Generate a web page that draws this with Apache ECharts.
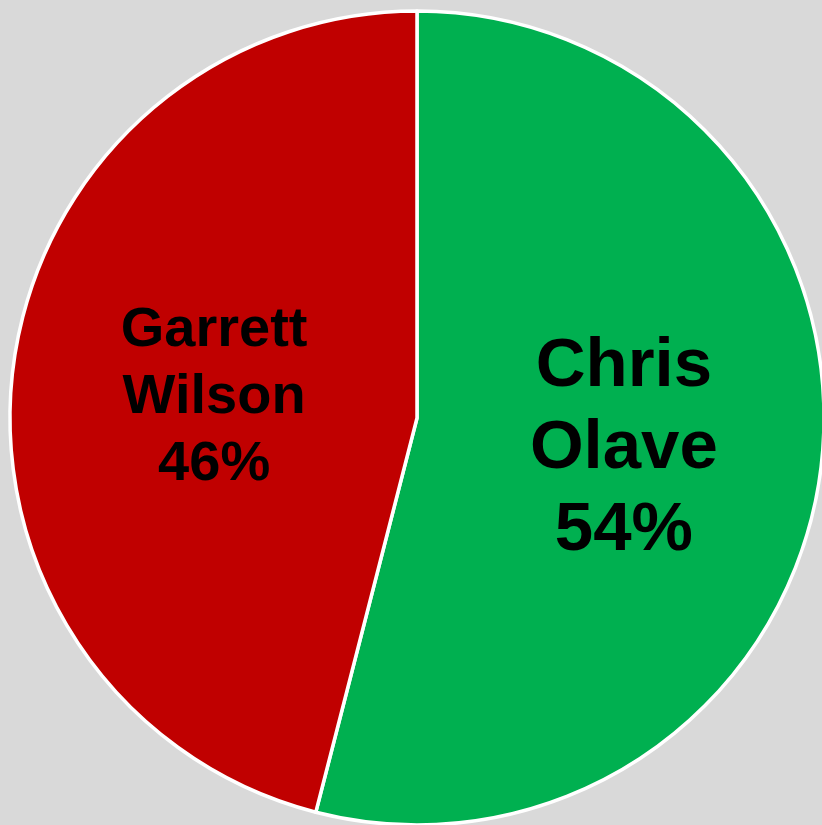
<!DOCTYPE html>
<html>
<head>
<meta charset="utf-8">
<script src="https://cdn.jsdelivr.net/npm/echarts@6/dist/echarts.min.js"></script>
<style>
html,body{margin:0;padding:0;background:#d9d9d9;}
#chart{width:822px;height:825px;}
</style>
</head>
<body>
<div id="chart"></div>
<script>
const players = ['Chris Olave', 'Garrett Wilson'];
const shares = [54, 46];
const colors = ['#00b050', '#c00000'];
const labelSizes = [69, 56];
const lineHeights = [82, 67];

const chart = echarts.init(document.getElementById('chart'), null, {renderer: 'canvas'});
chart.setOption({
  backgroundColor: '#d9d9d9',
  animation: false,
  series: [{
    type: 'pie',
    center: [417, 418],
    radius: [0, 407],
    startAngle: 90,
    clockwise: true,
    data: players.map((p, i) => ({
      name: p,
      value: shares[i],
      itemStyle: {color: colors[i]},
      label: {fontSize: labelSizes[i], lineHeight: lineHeights[i]}
    })),
    itemStyle: {borderColor: '#ffffff', borderWidth: 3.5},
    label: {
      show: true,
      position: 'inside',
      offset: [2, 5],
      formatter: p => p.name.replace(' ', '\n') + '\n' + p.value + '%',
      color: '#000000',
      fontFamily: 'Liberation Sans, Arial, sans-serif',
      fontWeight: 'bold',
      align: 'center'
    },
    labelLine: {show: false},
    emphasis: {disabled: true}
  }]
});
</script>
</body>
</html>
